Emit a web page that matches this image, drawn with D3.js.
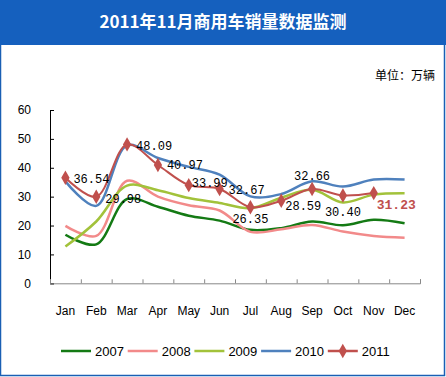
<!DOCTYPE html>
<html><head><meta charset="utf-8">
<script src="https://cdn.jsdelivr.net/npm/d3@7"></script>
<style>body{margin:0;background:#fff}svg{display:block}</style>
</head><body>
<script>
const months = ["Jan","Feb","Mar","Apr","May","Jun","Jul","Aug","Sep","Oct","Nov","Dec"];
const s2007 = [16.8,13.5,29.2,26.5,23.4,21.7,18.5,19.1,21.4,20.1,22.0,20.8];
const s2008 = [19.9,16.4,35.5,30.0,27.0,25.2,17.8,18.7,20.2,17.9,16.4,15.8];
const s2009 = [12.7,21.4,33.8,32.2,29.5,27.8,26.0,29.6,32.4,28.0,30.7,31.2];
const s2010 = [35.3,26.8,47.8,43.4,40.3,37.6,30.1,30.9,35.3,33.5,35.9,35.9];
const s2011 = [36.54,29.98,48.09,40.97,33.99,32.67,26.35,28.59,32.66,30.40,31.23];
const labels2011 = ["36.54","29.98","48.09","40.97","33.99","32.67","26.35","28.59","32.66","30.40","31.23"];
const yTicks = [0,10,20,30,40,50,60];
const seriesNames = ["2007","2008","2009","2010","2011"];
const colors = ["#147a14","#f28a8a","#a2c23a","#4f81bd","#c0504d"];

const W=446,H=377;
const svg=d3.select("body").append("svg").attr("width",W).attr("height",H);
svg.append("rect").attr("x",0.5).attr("y",0.5).attr("width",W-2).attr("height",H-2).attr("fill","#fff").attr("stroke","#1a5fb4").attr("stroke-width",1.5);
svg.append("rect").attr("x",0).attr("y",0).attr("width",W).attr("height",45).attr("fill","#1560be");
svg.append("text").attr("x",223).attr("y",28).attr("text-anchor","middle").attr("fill","#fff")
  .attr("font-family","'Noto Sans CJK SC'").attr("font-weight","bold").attr("font-size",17).text("2011年11月商用车销量数据监测");
svg.append("text").attr("x",435).attr("y",80).attr("text-anchor","end").attr("fill","#000")
  .attr("font-family","'Noto Sans CJK SC'").attr("font-size",12).text("单位：万辆");

const x=d3.scaleBand().domain(months).range([50,420]);
const xb=d3.scaleLinear().domain([0,12]).range([50,420]);
const y=d3.scaleLinear().domain([0,60]).range([283.3,110]);

// y axis
const ya=svg.append("g").attr("transform","translate(50,0)")
  .call(d3.axisLeft(y).tickValues(yTicks).tickSize(-4).tickPadding(19));
ya.select(".domain").attr("stroke","#000");
ya.selectAll(".tick line").attr("stroke","#000");
ya.selectAll("text").attr("font-family","'Liberation Sans',Arial").attr("font-size",12).attr("fill","#000");
// x axis
const xa=svg.append("g").attr("transform","translate(0,283.3)")
  .call(d3.axisBottom(xb).ticks(12).tickSize(-4).tickFormat(""));
xa.selectAll("path,line").attr("stroke","#888");
const xl=svg.append("g").attr("transform","translate(0,283.3)")
  .call(d3.axisBottom(x).tickSize(0).tickPadding(23));
xl.select(".domain").remove();
xl.selectAll("text").attr("font-family","'Liberation Sans',Arial").attr("font-size",12).attr("fill","#000");

const line=d3.line().x((d,i)=>x(months[i])+x.bandwidth()/2).y(d=>y(d)).curve(d3.curveCatmullRom.alpha(0.5));
const all=[s2007,s2008,s2009,s2010];
all.forEach((s,k)=>{
  svg.append("path").datum(s).attr("d",line).attr("fill","none").attr("stroke",colors[k]).attr("stroke-width",2.5);
});
svg.append("path").datum(s2011).attr("d",line).attr("fill","none").attr("stroke",colors[4]).attr("stroke-width",2);
const diamond=d3.symbol().type(d3.symbolDiamond).size(60);
svg.selectAll(".mk").data(s2011).join("path").attr("d",diamond)
  .attr("transform",(d,i)=>`translate(${x(months[i])+x.bandwidth()/2},${y(d)})`).attr("fill",colors[4]);

// labels: dx, dy, anchor
const lp=[[8,5,"start"],[9,6,"start"],[9,6,"start"],[9,4,"start"],[3,2,"start"],[9,5,"start"],[0,16,"middle"],[4,9,"start"],[0,-9,"middle"],[0,21,"middle"],[3,16,"start"]];
s2011.forEach((v,i)=>{
  const cx=x(months[i])+x.bandwidth()/2, cy=y(v);
  const t=svg.append("text").attr("x",cx+lp[i][0]).attr("y",cy+lp[i][1]).attr("text-anchor",lp[i][2])
   .attr("font-family","'Liberation Mono','DejaVu Sans Mono',monospace").attr("font-size",i===10?13:12)
   .attr("fill",i===10?colors[4]:"#000").text(labels2011[i]);
  if(i===10) t.attr("font-weight","bold");
});

// legend
seriesNames.forEach((n,k)=>{
  const lx=61+k*66.7, ly=351;
  svg.append("line").attr("x1",lx).attr("x2",lx+30).attr("y1",ly).attr("y2",ly).attr("stroke",colors[k]).attr("stroke-width",2.5);
  if(k===4) svg.append("path").attr("d",diamond).attr("transform",`translate(${lx+15},${ly})`).attr("fill",colors[k]);
  svg.append("text").attr("x",lx+34).attr("y",ly+5).attr("font-family","'Liberation Sans',Arial").attr("font-size",13).attr("fill","#000").text(n);
});
</script>
</body></html>
